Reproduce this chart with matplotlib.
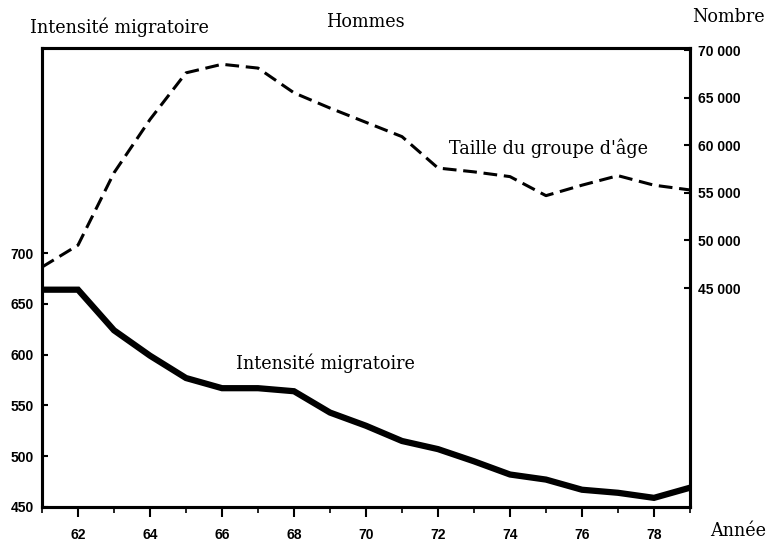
import numpy as np
import matplotlib.pyplot as plt
from matplotlib.ticker import MultipleLocator, FuncFormatter

annees = [61, 62, 63, 64, 65, 66, 67, 68, 69, 70, 71, 72, 73, 74, 75, 76, 77, 78, 79]
intensite = [664, 664, 624, 599, 577, 567, 567, 564, 543, 530, 515, 507, 495, 482, 477, 467, 464, 459, 469]
taille = [47200, 49500, 57100, 62700, 67600, 68500, 68100, 65500, 63900, 62400,
          60900, 57600, 57200, 56700, 54700, 55800, 56800, 55800, 55300]

serif = "DejaVu Serif"
bold_num = {"family": "Liberation Sans", "weight": "bold", "size": 10}

fig = plt.figure(figsize=(7.68, 5.43), dpi=100)
ax = fig.add_axes([0.0547, 0.0663, 0.8437, 0.8453])
ax2 = ax.twinx()

ax.plot(annees, intensite, color="black", lw=4.5, solid_joinstyle="miter")
ax2.plot(annees, taille, color="black", lw=2.2, dashes=(4.5, 2.2))

ax.set_xlim(61, 79)
ax.set_ylim(450, 902)
ax2.set_ylim(21996, 70210)

ax.xaxis.set_minor_locator(MultipleLocator(1))
ax.set_xticks(range(62, 80, 2))
ax.set_yticks(range(450, 701, 50))
ax2.set_yticks(range(45000, 70001, 5000))
ax2.yaxis.set_major_formatter(FuncFormatter(lambda v, p: f"{int(v):,}".replace(",", " ")))

ax.tick_params(axis="x", which="major", direction="out", length=7, width=1.5, pad=8)
ax.tick_params(axis="x", which="minor", direction="out", length=4, width=1.2)
ax.tick_params(axis="y", direction="in", length=4, width=1.5, pad=6)
ax2.tick_params(axis="y", direction="in", length=4, width=1.5, pad=6)

for a in (ax, ax2):
    for s in a.spines.values():
        s.set_linewidth(2.2)
    for lab in a.get_xticklabels() + a.get_yticklabels():
        lab.set_fontproperties(bold_num)

fs = 12.7
fig.text(30 / 768, 1 - 27 / 543, "Intensité migratoire", family=serif, fontsize=fs, va="center", ha="left")
fig.text(365 / 768, 1 - 22 / 543, "Hommes", family=serif, fontsize=fs, va="center", ha="center")
fig.text(765 / 768, 1 - 17 / 543, "Nombre", family=serif, fontsize=fs, va="center", ha="right")
fig.text(766 / 768, 1 - 531 / 543, "Année", family=serif, fontsize=fs, va="center", ha="right")

ax2.text(72.3, 59700, "Taille du groupe d'âge", family=serif, fontsize=fs, va="center", ha="left")
ax.text(66.4, 592, "Intensité migratoire", family=serif, fontsize=fs, va="center", ha="left")

fig.savefig("out.png", dpi=100)
